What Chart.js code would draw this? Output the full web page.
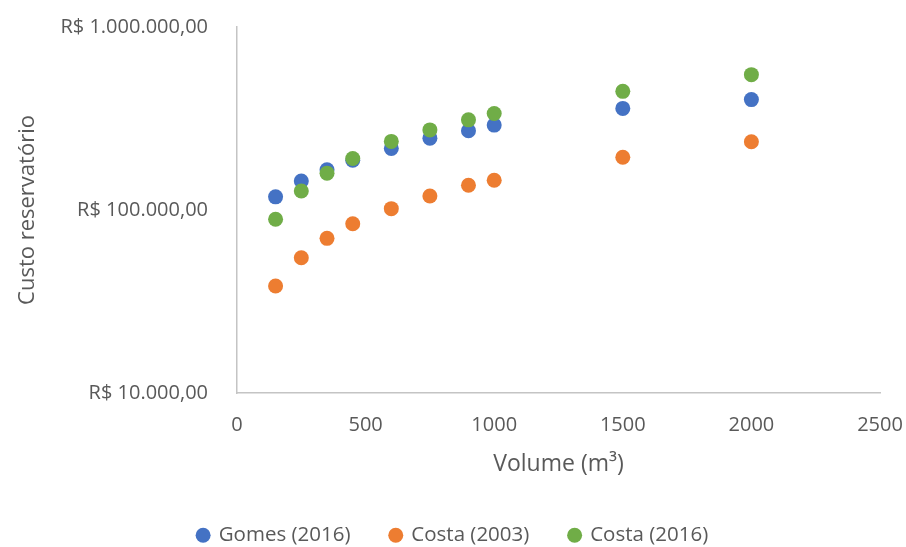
<!DOCTYPE html>
<html>
<head>
<meta charset="utf-8">
<script src="https://cdn.jsdelivr.net/npm/chart.js@4/dist/chart.umd.min.js"></script>
<style>
  html, body { margin: 0; padding: 0; background: #ffffff; }
  #wrap { width: 906px; height: 547px; position: relative; }
</style>
</head>
<body>
<div id="wrap"><canvas id="chart" width="906" height="547"></canvas></div>
<script>
// Reservoir volume (m³) and estimated cost (R$) for three cost models
const volumes = [150, 250, 350, 450, 600, 750, 900, 1000, 1500, 2000];
const gomes2016 = [118000, 144000, 166000, 187000, 217000, 247000, 271000, 291000, 359000, 401000];
const costa2003 = [38400, 54800, 70000, 84100, 101700, 119300, 136600, 145400, 194300, 235900];
const costa2016 = [89000, 127000, 159000, 191000, 237000, 274000, 311000, 337000, 445000, 549000];

const xTicks = [0, 500, 1000, 1500, 2000, 2500];
const yTicks = [10000, 100000, 1000000];
const yTickLabels = ['R$ 10.000,00', 'R$ 100.000,00', 'R$ 1.000.000,00'];

const seriesNames = ['Gomes (2016)', 'Costa (2003)', 'Costa (2016)'];
const seriesColors = ['#4472C4', '#ED7D31', '#70AD47'];
const seriesValues = [gomes2016, costa2003, costa2016];
const seriesOrder = [2, 1, 0]; // green drawn on top of blue

const textColor = '#595959';
const family = "'Open Sans', 'DejaVu Sans', sans-serif";

const datasets = seriesNames.map((name, i) => ({
  label: name,
  data: volumes.map((v, k) => ({ x: v, y: seriesValues[i][k] })),
  backgroundColor: seriesColors[i],
  borderColor: seriesColors[i],
  borderWidth: 0,
  pointRadius: 7.5,
  pointHoverRadius: 7.5,
  pointStyle: 'circle',
  order: seriesOrder[i]
}));

new Chart(document.getElementById('chart'), {
  type: 'scatter',
  data: { datasets },
  options: {
    responsive: false,
    animation: false,
    devicePixelRatio: 1,
    layout: { padding: { top: 27, right: 0, bottom: 2, left: 0 } },
    plugins: {
      tooltip: { enabled: false },
      legend: {
        position: 'bottom',
        maxHeight: 60,
        labels: {
          usePointStyle: true,
          pointStyle: 'circle',
          boxWidth: 10.6,
          boxHeight: 10.6,
          padding: 40,
          color: textColor,
          font: { family, size: 20.5 },
          sort: (a, b) => a.datasetIndex - b.datasetIndex
        }
      }
    },
    scales: {
      x: {
        type: 'linear',
        min: 0,
        max: 2500,
        afterBuildTicks: (s) => { s.ticks = xTicks.map(v => ({ value: v })); },
        afterFit: (s) => { s.height = 92; s.paddingRight = 26; },
        grid: { color: 'rgba(0,0,0,0)', drawTicks: false },
        border: { display: true, color: '#C4C4C4', width: 1.5 },
        ticks: {
          padding: 20,
          color: textColor,
          font: { family, size: 20 },
          maxRotation: 0,
          callback: (v) => String(v)
        },
        title: {
          display: true,
          text: 'Volume (m³)',
          color: textColor,
          font: { family, size: 23 },
          padding: { top: 0, bottom: 7 }
        }
      },
      y: {
        type: 'logarithmic',
        min: 10000,
        max: 1000000,
        afterBuildTicks: (s) => { s.ticks = yTicks.map(v => ({ value: v })); },
        afterFit: (s) => { s.width = 237; s.paddingTop = 0; s.paddingBottom = 0; },
        grid: { color: 'rgba(0,0,0,0)', drawTicks: false },
        border: { display: true, color: '#C4C4C4', width: 1.5 },
        ticks: {
          padding: 29,
          color: textColor,
          font: { family, size: 20 },
          callback: (v) => {
            const i = yTicks.indexOf(v);
            return i >= 0 ? yTickLabels[i] : '';
          }
        },
        title: {
          display: true,
          text: 'Custo reservatório',
          color: textColor,
          font: { family, size: 22 },
          padding: { top: 15, bottom: 0 }
        }
      }
    }
  }
});
</script>
</body>
</html>
